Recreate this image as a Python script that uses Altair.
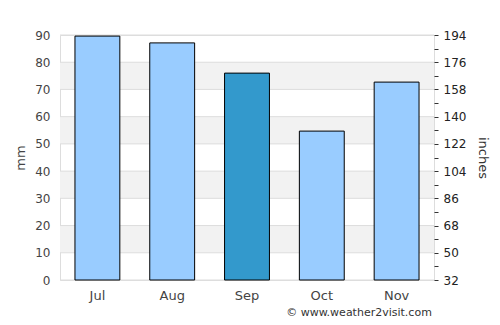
import altair as alt
import pandas as pd

months = ["Jul", "Aug", "Sep", "Oct", "Nov"]
rain_mm = [89.6, 87.1, 76.0, 54.7, 72.7]
is_current = ["no", "no", "yes", "no", "no"]
band_lo = [10, 30, 50, 70]
band_hi = [20, 40, 60, 80]
grid_vals = [0, 10, 20, 30, 40, 50, 60, 70, 80, 90]
inch_ticks = list(range(32, 195, 9))
credit = ["© www.weather2visit.com"]

df = pd.DataFrame({"month": months, "mm": rain_mm, "current": is_current})
bands = pd.DataFrame({"lo": band_lo, "hi": band_hi})
grid = pd.DataFrame({"v": grid_vals})
inches = pd.DataFrame({"v": inch_ticks})
cred = pd.DataFrame({"t": credit})

FONT = "DejaVu Sans"
mm_scale = alt.Scale(domain=[0, 90], nice=False)

stripes = alt.Chart(bands).mark_rect(color="#f2f2f2").encode(
    y=alt.Y("lo:Q", scale=mm_scale, axis=None),
    y2="hi:Q",
)

gridlines = alt.Chart(grid).mark_rule(color="#dddddd", strokeWidth=1).encode(
    y=alt.Y("v:Q", scale=mm_scale, axis=None),
)

bars = alt.Chart(df).mark_bar(stroke="black", strokeWidth=1).encode(
    x=alt.X(
        "month:N",
        sort=months,
        scale=alt.Scale(paddingInner=0.4, paddingOuter=0.2),
        axis=alt.Axis(title=None, labelAngle=0, ticks=False, domain=False,
                      labelColor="#444444", labelFontSize=13, labelPadding=9,
                      labelFont=FONT),
    ),
    y=alt.Y(
        "mm:Q",
        scale=mm_scale,
        axis=alt.Axis(title="mm", values=grid_vals, ticks=False, domain=False,
                      grid=False, labelColor="#444444", labelFontSize=12,
                      labelPadding=10, labelFont=FONT, titleFont=FONT,
                      titleFontSize=13, titleFontWeight="normal",
                      titleColor="#444444", titlePadding=7),
    ),
    color=alt.Color("current:N", scale=alt.Scale(domain=["no", "yes"],
                    range=["#99ccff", "#3399cc"]), legend=None),
)

right = alt.Chart(inches).mark_point(opacity=0).encode(
    y=alt.Y(
        "v:Q",
        scale=alt.Scale(domain=[32, 194], nice=False),
        axis=alt.Axis(orient="right", title="inches", values=inch_ticks,
                      labelExpr="(datum.value - 32) % 18 == 0 ? datum.label : ''",
                      labelOverlap=False, domain=False, grid=False,
                      tickColor="#333333", tickSize=4, labelPadding=5,
                      labelColor="#222222", labelFontSize=12, labelFont=FONT,
                      titleFont=FONT, titleFontSize=13,
                      titleFontWeight="normal", titleColor="#333333",
                      titlePadding=10),
    ),
)

credit_text = alt.Chart(cred).mark_text(
    font=FONT, fontSize=11, color="#333333", align="center", baseline="middle"
).encode(text="t:N", x=alt.value(299), y=alt.value(278))

chart = alt.layer(stripes, gridlines, bars, right, credit_text).resolve_scale(
    y="independent"
).properties(
    width=374, height=245,
    autosize=alt.AutoSizeParams(type="none"),
    padding={"left": 60, "top": 35, "right": 66, "bottom": 45},
).configure_view(stroke="#dddddd").configure(background="white")

chart.save("out.html", embed_options={"renderer": "svg", "actions": False})
